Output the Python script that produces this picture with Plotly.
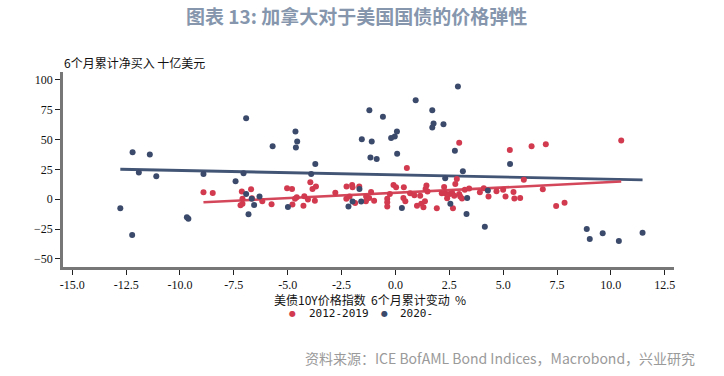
import plotly.graph_objects as go

# ---- data ----
red_x = [-8.91, -8.48, -7.13, -6.70, -7.10, -7.10, -7.19, -6.66, -6.18, -5.75,
         -5.03, -4.80, -4.58, -4.66, -4.78, -4.27, -4.23, -4.06, -3.95, -3.85,
         -3.69, -3.74, -2.79, -2.27, -2.01, -1.99, -1.68, -2.28, -2.13, -1.87,
         -1.36, -1.22, -1.37, -1.13, -0.99, -0.38, -0.38, -0.38, -0.26, -0.09,
         0.03, 0.39, 0.53, 0.37, 0.46, 0.68, 0.88, 1.15, 1.00, 1.20,
         1.30, 1.37, 1.40, 1.44, 1.49, 1.92, 2.26, 2.15, 2.31, 2.40,
         2.52, 2.64, 2.73, 2.67, 2.85, 2.78, 2.96, 2.96, 3.01, 3.09,
         3.22, 3.42, 3.92, 4.10, 4.32, 4.69, 5.00, 5.11, 5.31, 5.48,
         5.52, 5.79, 5.96, 6.32, 6.84, 6.98, 7.46, 7.85, 10.48]
red_y = [5.8, 5.3, 6.4, 8.3, 0.3, -3.9, -5.1, 0.8, -1.8, -4.3,
         9.1, 8.6, 1.6, 0.3, -4.5, -5.4, 2.4, -0.3, 14.2, 8.6,
         10.6, -1.2, 5.5, 10.6, 12.0, 10.0, 10.6, 0.3, 2.2, -3.1,
         2.2, 1.1, -1.8, 6.1, -1.2, 0.3, -2.6, -6.2, 4.4, 12.0,
         10.0, 10.0, 26.2, 1.1, -1.8, 5.0, 3.3, 3.0, -5.4, -3.9,
         -6.8, -1.8, 8.6, 11.4, 6.4, -7.6, 10.3, 5.0, 5.0, 0.8,
         4.4, 5.0, 3.0, -7.6, 17.0, 12.8, 47.4, 4.4, 2.2, 0.5,
         8.0, 8.9, 5.8, 9.1, 2.2, 6.6, 8.0, 2.2, 41.3, 6.1,
         0.5, 1.1, 16.4, 44.3, 8.3, 46.0, -5.6, -2.9, 49.1]

navy_x = [-12.77, -12.20, -12.22, -11.91, -11.40, -11.10, -9.68, -9.61, -8.91, -7.42,
          -7.05, -6.93, -6.93, -6.67, -6.56, -6.82, -6.31, -5.70, -4.99, -4.64,
          -4.56, -4.62, -3.91, -3.72, -2.18, -1.99, -1.59, -1.67, -1.56, -1.21,
          -1.16, -1.10, -0.87, -0.58, -0.20, -0.03, 0.07, 0.08, 0.30, 0.94,
          1.71, 1.77, 1.71, 2.23, 2.31, 2.55, 2.76, 2.90, 3.13, 3.33,
          3.30, 4.15, 4.29, 5.32, 8.88, 9.02, 9.62, 10.37, 11.47]
navy_y = [-7.6, 39.3, -29.9, 22.3, 37.4, 19.2, -15.2, -16.3, 21.2, 15.0,
          21.7, 67.8, 4.4, 0.3, -4.8, -12.7, 2.2, 44.3, -6.5, 56.7,
          48.3, 43.3, 21.2, 29.6, -6.2, -2.0, -2.0, 8.6, 50.2, 74.5,
          34.9, 48.3, 33.8, 69.2, 51.4, 52.5, 56.7, 38.0, -7.3, 82.9,
          74.5, 63.4, 60.0, 62.8, 17.5, -3.9, 40.7, 94.4, 23.4, 1.1,
          -12.3, -23.0, 7.2, 29.6, -24.9, -33.3, -28.6, -35.0, -28.0]

# trend line end points
red_trend_x = [-8.91, 10.48]
red_trend_y = [-2.6, 14.8]
navy_trend_x = [-12.77, 11.47]
navy_trend_y = [25.1, 16.2]

series_names = ["2012-2019", "2020-"]

x_ticks = [-15.0, -12.5, -10.0, -7.5, -5.0, -2.5, 0.0, 2.5, 5.0, 7.5, 10.0, 12.5]
y_ticks = [-50, -25, 0, 25, 50, 75, 100]

RED = "#d23a4f"
NAVY = "#3b4a6b"
SERIF = "Liberation Serif, Times New Roman, serif"
CJK = "Noto Sans CJK SC"
LEG_FONT = dict(family="DejaVu Sans Mono, monospace", size=11, color="#111")

fig = go.Figure()
fig.add_trace(go.Scatter(x=navy_trend_x, y=navy_trend_y, mode="lines",
                         line=dict(color="#435575", width=2.8), showlegend=False,
                         hoverinfo="skip"))
fig.add_trace(go.Scatter(x=red_trend_x, y=red_trend_y, mode="lines",
                         line=dict(color="#d4475b", width=2.6), showlegend=False,
                         hoverinfo="skip"))
fig.add_trace(go.Scatter(x=red_x, y=red_y, mode="markers", name=series_names[0],
                         marker=dict(color=RED, size=6), showlegend=False))
fig.add_trace(go.Scatter(x=navy_x, y=navy_y, mode="markers", name=series_names[1],
                         marker=dict(color=NAVY, size=6), showlegend=False))

LEG_Y = -0.2359
legend_annots = [
    dict(text="●", x=0.3764, xanchor="center", font=dict(family="DejaVu Sans", size=8, color=RED)),
    dict(text=series_names[0], x=0.3993, xanchor="left", font=LEG_FONT),
    dict(text="●", x=0.5270, xanchor="center", font=dict(family="DejaVu Sans", size=8, color=NAVY)),
    dict(text=series_names[1], x=0.5483, xanchor="left", font=LEG_FONT),
]
for a in legend_annots:
    a.update(xref="paper", yref="paper", y=LEG_Y, yanchor="middle", showarrow=False)

fig.update_layout(
    width=724, height=376,
    margin=dict(l=63, r=50, t=72, b=109),
    paper_bgcolor="white", plot_bgcolor="white",
    showlegend=False,
    xaxis=dict(range=[-15.43, 12.93], tickvals=x_ticks,
               ticktext=[f"{v:.1f}" for v in x_ticks],
               showgrid=False, zeroline=False, showline=True, linecolor="#777",
               linewidth=2.5, ticks="outside", ticklen=5, tickcolor="#222", tickwidth=1,
               tickfont=dict(family=SERIF, size=12, color="#111")),
    yaxis=dict(range=[-56.8, 106.6], tickvals=y_ticks,
               showgrid=False, zeroline=False, showline=True, linecolor="#777",
               linewidth=2.5, ticks="outside", ticklen=5, tickcolor="#222", tickwidth=1,
               tickfont=dict(family=SERIF, size=12, color="#111")),
    annotations=[
        dict(text="<b>图表 13: 加拿大对于美国国债的价格弹性</b>", xref="paper", yref="paper",
             x=0.481, y=1.292, xanchor="center", yanchor="middle", showarrow=False,
             font=dict(family=CJK, size=19, color="#8596ad")),
        dict(text="6个月累计净买入 十亿美元", xref="paper", yref="paper",
             x=-0.002, y=1.051, xanchor="left", yanchor="middle", showarrow=False,
             font=dict(family=CJK, size=12, color="#111")),
        dict(text="美债10Y价格指数  6个月累计变动  %", xref="paper", yref="paper",
             x=0.502, y=-0.1128, xanchor="center", yanchor="top", showarrow=False,
             font=dict(family=CJK, size=12, color="#111")),
        dict(text="资料来源：ICE BofAML Bond Indices，Macrobond，兴业研究", xref="paper", yref="paper",
             x=1.038, y=-0.467, xanchor="right", yanchor="middle", showarrow=False,
             font=dict(family=CJK, size=14, color="#9a9a9a")),
    ] + legend_annots,
)

fig.write_html("out.html", config={"displayModeBar": False},
               post_script="document.body.style.margin='0px';")
